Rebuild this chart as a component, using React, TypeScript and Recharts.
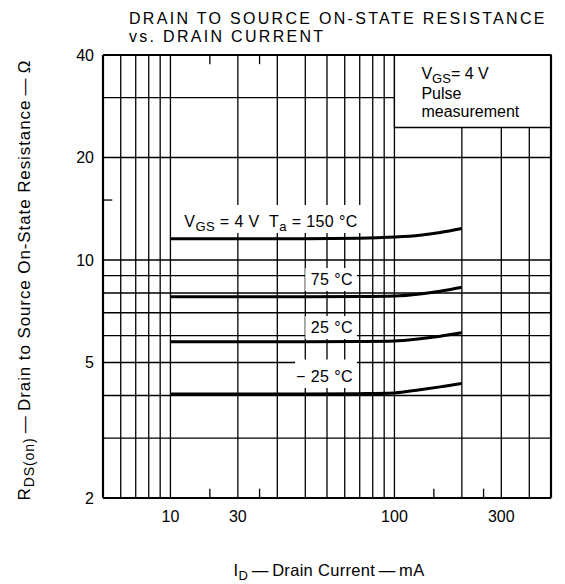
import React from 'react';
import { LineChart, Line, XAxis, YAxis, ReferenceLine, ReferenceArea } from 'recharts';

const FONT = '"Liberation Sans", Arial, Helvetica, sans-serif';

// Drain current (mA) and on-state resistance (ohm) per ambient temperature
const ID_MA = [10, 20, 40, 70, 100, 130, 160, 200];
const R_150C = [11.55, 11.55, 11.55, 11.58, 11.68, 11.83, 12.05, 12.38];
const R_75C = [7.8, 7.8, 7.8, 7.81, 7.84, 7.95, 8.1, 8.32];
const R_25C = [5.75, 5.75, 5.75, 5.76, 5.78, 5.87, 5.97, 6.11];
const R_M25C = [4.04, 4.04, 4.04, 4.05, 4.07, 4.16, 4.24, 4.34];

const X_DOMAIN: [number, number] = [5, 500];
const Y_DOMAIN: [number, number] = [2, 40];
const X_TICKS = [10, 20, 100, 300];
const X_TICK_LABELS = ['10', '30', '100', '300'];
const Y_TICKS = [2, 5, 10, 20, 40];
const X_GRID = [6, 7, 8, 9, 10, 20, 30, 40, 50, 60, 70, 80, 90, 100];
const X_GRID_LOWER = [200, 300, 400];
const Y_GRID = [3, 4, 5, 6, 7, 8, 9, 10, 20];
const Y_GRID_LEFT = [30];
const X_MINOR = [15, 25, 150, 250];
const Y_MINOR = [15];

const data = ID_MA.map((id, i) => ({
  id,
  t150: R_150C[i],
  t75: R_75C[i],
  t25: R_25C[i],
  tm25: R_M25C[i],
}));

const GRID_W = 1.3;

const XTick = (props: any) => {
  const { x, y, payload } = props;
  const idx = X_TICKS.indexOf(payload.value);
  return (
    <text x={x} y={y} dy="0.71em" textAnchor="middle" fontSize={16} fontFamily={FONT} fill="#000">
      {idx >= 0 ? X_TICK_LABELS[idx] : payload.value}
    </text>
  );
};

const boxLabel = (content: React.ReactNode) => (props: any) => {
  const vb = props.viewBox || {};
  return (
    <text
      x={vb.x + vb.width - 4}
      y={vb.y + vb.height - 6}
      textAnchor="end"
      fontSize={16}
      fontFamily={FONT}
      fill="#000"
      letterSpacing={0.4}
      style={{ whiteSpace: 'pre' }}
    >
      {content}
    </text>
  );
};

const legendLabel = (props: any) => {
  const vb = props.viewBox || {};
  const x = vb.x + 27;
  return (
    <g fontFamily={FONT} fontSize={16} fill="#000">
      <text x={x} y={vb.y + 24}>
        V<tspan dy={4} fontSize={13}>GS</tspan>
        <tspan dy={-4}>= 4 V</tspan>
      </text>
      <text x={x} y={vb.y + 44}>Pulse</text>
      <text x={x} y={vb.y + 62}>measurement</text>
    </g>
  );
};

export default function App() {
  return (
    <div style={{ position: 'absolute', left: 0, top: 0, width: 565, height: 584, background: '#fff' }}>
      <LineChart width={565} height={584} data={data} margin={{ top: 55, right: 14, left: 0, bottom: 0 }}>
        <XAxis
          dataKey="id"
          type="number"
          scale="log"
          domain={X_DOMAIN}
          allowDataOverflow
          ticks={X_TICKS}
          tick={<XTick />}
          tickLine={false}
          axisLine={false}
          tickMargin={7}
          height={86}
          interval={0}
        />
        <YAxis
          type="number"
          scale="log"
          domain={Y_DOMAIN}
          allowDataOverflow
          ticks={Y_TICKS}
          tick={{ fontSize: 16, fill: '#000', fontFamily: FONT }}
          tickLine={false}
          axisLine={false}
          tickMargin={3}
          width={103}
          interval={0}
        />

        {X_GRID.map((v) => (
          <ReferenceLine key={'xg' + v} x={v} stroke="#000" strokeWidth={GRID_W} zIndex={-10} />
        ))}
        {X_GRID_LOWER.map((v) => (
          <ReferenceLine
            key={'xgl' + v}
            segment={[{ x: v, y: Y_DOMAIN[0] }, { x: v, y: 24.5 }]}
            stroke="#000"
            strokeWidth={GRID_W}
            zIndex={-10}
          />
        ))}
        {Y_GRID.map((v) => (
          <ReferenceLine key={'yg' + v} y={v} stroke="#000" strokeWidth={GRID_W} zIndex={-10} />
        ))}
        {Y_GRID_LEFT.map((v) => (
          <ReferenceLine
            key={'ygl' + v}
            segment={[{ x: X_DOMAIN[0], y: v }, { x: 100, y: v }]}
            stroke="#000"
            strokeWidth={GRID_W}
            zIndex={-10}
          />
        ))}
        {X_MINOR.map((v) => (
          <ReferenceLine
            key={'xmb' + v}
            segment={[{ x: v, y: Y_DOMAIN[0] }, { x: v, y: 2.13 }]}
            stroke="#000"
            strokeWidth={GRID_W}
            zIndex={-10}
          />
        ))}
        {X_MINOR.filter((v) => v < 100).map((v) => (
          <ReferenceLine
            key={'xmt' + v}
            segment={[{ x: v, y: Y_DOMAIN[1] }, { x: v, y: 37.6 }]}
            stroke="#000"
            strokeWidth={GRID_W}
            zIndex={-10}
          />
        ))}
        {Y_MINOR.map((v) => (
          <ReferenceLine
            key={'ym' + v}
            segment={[{ x: X_DOMAIN[0], y: v }, { x: 5.5, y: v }]}
            stroke="#000"
            strokeWidth={GRID_W}
            zIndex={-10}
          />
        ))}

        <ReferenceArea
          x1={100}
          x2={500}
          y1={24.5}
          y2={40}
          fill="#fff"
          fillOpacity={1}
          stroke="#000"
          strokeWidth={GRID_W}
          zIndex={50}
          label={legendLabel}
        />
        <ReferenceArea
          x1={11.2}
          x2={71.5}
          y1={12.0}
          y2={14.5}
          fill="#fff"
          fillOpacity={1}
          stroke="none"
          zIndex={50}
          label={boxLabel(
            <>
              V<tspan dy={4} fontSize={13}>GS</tspan>
              <tspan dy={-4}>{' = 4 V  T'}</tspan>
              <tspan dy={4} fontSize={13}>a</tspan>
              <tspan dy={-4}>{' = 150 °C'}</tspan>
            </>
          )}
        />
        <ReferenceArea x1={40} x2={68} y1={8.11} y2={9.47} fill="#fff" fillOpacity={1} stroke="none" zIndex={50} label={boxLabel('75 °C')} />
        <ReferenceArea x1={40} x2={68} y1={5.86} y2={6.85} fill="#fff" fillOpacity={1} stroke="none" zIndex={50} label={boxLabel('25 °C')} />
        <ReferenceArea x1={36} x2={68} y1={4.21} y2={5.1} fill="#fff" fillOpacity={1} stroke="none" zIndex={50} label={boxLabel('− 25 °C')} />

        <Line dataKey="t150" type="monotone" stroke="#000" strokeWidth={3} dot={false} isAnimationActive={false} />
        <Line dataKey="t75" type="monotone" stroke="#000" strokeWidth={3} dot={false} isAnimationActive={false} />
        <Line dataKey="t25" type="monotone" stroke="#000" strokeWidth={3} dot={false} isAnimationActive={false} />
        <Line dataKey="tm25" type="monotone" stroke="#000" strokeWidth={3} dot={false} isAnimationActive={false} />

        <ReferenceLine x={X_DOMAIN[0]} stroke="#000" strokeWidth={2.2} zIndex={450} />
        <ReferenceLine x={X_DOMAIN[1]} stroke="#000" strokeWidth={2.2} zIndex={450} />
        <ReferenceLine y={Y_DOMAIN[0]} stroke="#000" strokeWidth={2.2} zIndex={450} />
        <ReferenceLine y={Y_DOMAIN[1]} stroke="#000" strokeWidth={2.2} zIndex={450} />
      </LineChart>

      <svg
        width={565}
        height={584}
        style={{ position: 'absolute', left: 0, top: 0, pointerEvents: 'none' }}
      >
        <g fontFamily={FONT} fill="#000" fontSize={16} letterSpacing={2.3}>
          <text x={129} y={24}>DRAIN TO SOURCE ON-STATE RESISTANCE</text>
          <text x={129} y={42}>vs. DRAIN CURRENT</text>
        </g>
        <text x={329} y={576} textAnchor="middle" fontFamily={FONT} fontSize={16.5} fill="#000" letterSpacing={0.3}>
          I<tspan dy={4} fontSize={13}>D</tspan>
          <tspan dy={-4}>{'\u2009\u2014\u2009Drain Current\u2009\u2014\u2009mA'}</tspan>
        </text>
        <text
          transform="translate(30,280) rotate(-90)"
          x={0}
          y={0}
          textAnchor="middle"
          fontFamily={FONT}
          fontSize={17}
          fill="#000"
          letterSpacing={0.9}
        >
          R<tspan dy={4} fontSize={14}>DS(on)</tspan>
          <tspan dy={-4}>{'\u2009\u2014\u2009Drain to Source On-State Resistance\u2009\u2014\u2009Ω'}</tspan>
        </text>
      </svg>
    </div>
  );
}
